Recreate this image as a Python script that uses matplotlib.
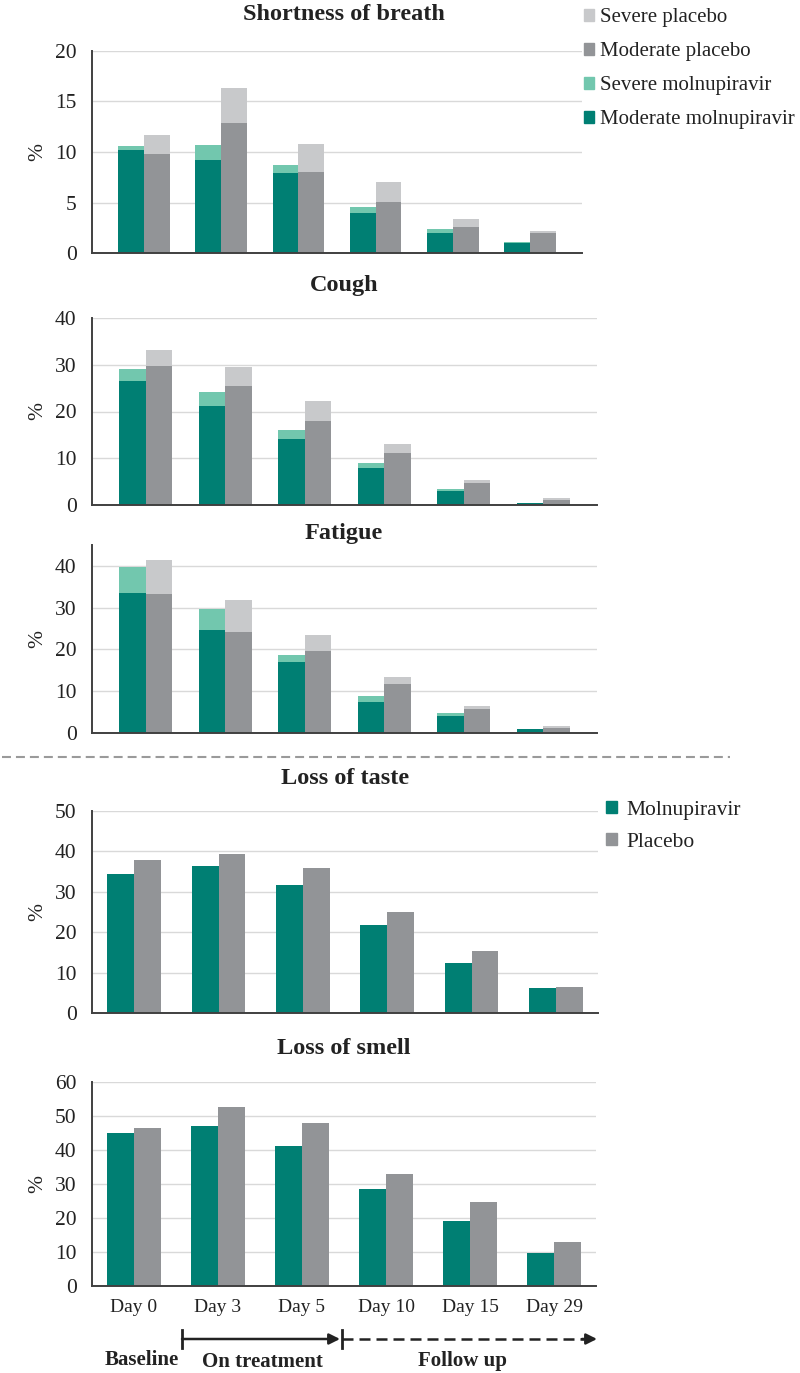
import numpy as np
import matplotlib
matplotlib.use('Agg')
import matplotlib.pyplot as plt
from matplotlib.patches import Patch

plt.rcParams['font.family'] = ['Liberation Serif', 'DejaVu Serif']

# ---- data -------------------------------------------------------------
days = ['Day 0', 'Day 3', 'Day 5', 'Day 10', 'Day 15', 'Day 29']

# shortness of breath (moderate part, severe part stacked on top)
sob_mol_mod = [10.15, 9.2, 7.9, 3.95, 2.0, 0.95]
sob_mol_sev = [0.45, 1.45, 0.85, 0.6, 0.35, 0.15]
sob_pla_mod = [9.8, 12.9, 8.0, 5.05, 2.6, 2.0]
sob_pla_sev = [1.85, 3.45, 2.8, 2.0, 0.8, 0.2]

cough_mol_mod = [26.5, 21.2, 14.1, 7.9, 3.1, 0.35]
cough_mol_sev = [2.6, 3.0, 1.9, 1.1, 0.4, 0.15]
cough_pla_mod = [29.8, 25.4, 18.0, 11.1, 4.8, 1.0]
cough_pla_sev = [3.3, 4.2, 4.3, 2.0, 0.6, 0.4]

fat_mol_mod = [33.4, 24.7, 17.0, 7.5, 4.15, 0.9]
fat_mol_sev = [6.3, 5.0, 1.75, 1.4, 0.75, 0.1]
fat_pla_mod = [33.2, 24.1, 19.6, 11.8, 5.75, 1.1]
fat_pla_sev = [8.3, 7.7, 3.9, 1.7, 0.75, 0.6]

taste_mol = [34.5, 36.3, 31.7, 21.7, 12.4, 6.3]
taste_pla = [37.8, 39.4, 35.8, 25.0, 15.4, 6.5]

smell_mol = [45.1, 47.2, 41.1, 28.5, 19.2, 9.8]
smell_pla = [46.4, 52.6, 48.0, 32.9, 24.6, 13.0]

# ---- style ------------------------------------------------------------
TEAL = '#007f73'
TEAL_L = '#72c7ae'
GRAY = '#929497'
GRAY_L = '#c8c9cb'
GRID = '#d9d9d9'
SPINE = '#404040'
INK = '#222222'

W, H = 800, 1373
fig = plt.figure(figsize=(W / 100, H / 100), dpi=100)


def make_ax(left, right, top, bottom):
    return fig.add_axes([left / W, 1 - bottom / H, (right - left) / W, (bottom - top) / H])


def style_ax(ax, ymax, ystep, ytop, xpad, show_x=False):
    ax.set_ylim(0, ytop)
    ax.set_yticks(np.arange(0, ymax + 1, ystep))
    ax.set_xlim(-xpad, len(days) - 1 + xpad)
    ax.set_xticks(np.arange(len(days)))
    if show_x:
        ax.set_xticklabels(days)
    else:
        ax.set_xticklabels([])
    ax.tick_params(axis='both', length=0, colors=INK)
    ax.tick_params(axis='y', pad=11, labelsize=15.5)
    ax.tick_params(axis='x', pad=9, labelsize=14)
    ax.yaxis.grid(True, color=GRID, lw=1.0)
    ax.set_axisbelow(True)
    for s in ['top', 'right']:
        ax.spines[s].set_visible(False)
    for s in ['left', 'bottom']:
        ax.spines[s].set_color(SPINE)
        ax.spines[s].set_linewidth(1.4)
    ax.spines['bottom'].set_zorder(5)


def stacked(ax, mol_mod, mol_sev, pla_mod, pla_sev, w):
    x = np.arange(len(days))
    ax.bar(x - w / 2, mol_mod, w, color=TEAL, zorder=3)
    ax.bar(x - w / 2, mol_sev, w, bottom=mol_mod, color=TEAL_L, zorder=3)
    ax.bar(x + w / 2, pla_mod, w, color=GRAY, zorder=3)
    ax.bar(x + w / 2, pla_sev, w, bottom=pla_mod, color=GRAY_L, zorder=3)


def paired(ax, mol, pla, w):
    x = np.arange(len(days))
    ax.bar(x - w / 2, mol, w, color=TEAL, zorder=3)
    ax.bar(x + w / 2, pla, w, color=GRAY, zorder=3)


# panel 1
ax1 = make_ax(92, 582, 51, 253)
stacked(ax1, sob_mol_mod, sob_mol_sev, sob_pla_mod, sob_pla_sev, 0.335)
style_ax(ax1, 20, 5, 20, 0.675)

# panel 2
ax2 = make_ax(92, 597, 318, 505)
stacked(ax2, cough_mol_mod, cough_mol_sev, cough_pla_mod, cough_pla_sev, 0.335)
style_ax(ax2, 40, 10, 40, 0.675)

# panel 3
ax3 = make_ax(92, 597, 545, 733)
stacked(ax3, fat_mol_mod, fat_mol_sev, fat_pla_mod, fat_pla_sev, 0.335)
style_ax(ax3, 40, 10, 45, 0.675)

# panel 4
ax4 = make_ax(92, 598, 811, 1013)
paired(ax4, taste_mol, taste_pla, 0.32)
style_ax(ax4, 50, 10, 50, 0.5)

# panel 5
ax5 = make_ax(92, 596, 1082, 1286)
paired(ax5, smell_mol, smell_pla, 0.32)
style_ax(ax5, 60, 10, 60, 0.5, show_x=True)

# legends
h1 = [Patch(color=GRAY_L), Patch(color=GRAY), Patch(color=TEAL_L), Patch(color=TEAL)]
l1 = ['Severe placebo', 'Moderate placebo', 'Severe molnupiravir', 'Moderate molnupiravir']
fig.legend(h1, l1, loc='upper left', bbox_to_anchor=(584 / W, 1 - 8 / H),
           frameon=False, fontsize=15, handlelength=0.5, handleheight=0.5,
           handletextpad=0.25, labelspacing=0.72, borderpad=0, borderaxespad=0,
           labelcolor=INK)

h2 = [Patch(color=TEAL), Patch(color=GRAY)]
fig.legend(h2, ['Molnupiravir', 'Placebo'], loc='upper left',
           bbox_to_anchor=(606 / W, 1 - 801 / H),
           frameon=False, fontsize=15.5, handlelength=0.5, handleheight=0.5,
           handletextpad=0.45, labelspacing=0.6, borderpad=0, borderaxespad=0,
           labelcolor=INK)

# overlay in pixel coordinates for titles, separators and arrows
ov = fig.add_axes([0, 0, 1, 1])
ov.set_xlim(0, W)
ov.set_ylim(H, 0)
ov.axis('off')
ov.patch.set_visible(False)

titles = [('Shortness of breath', 14, 344), ('Cough', 286, 344), ('Fatigue', 534, 344),
          ('Loss of taste', 778, 345), ('Loss of smell', 1048, 344)]
for t, y, x in titles:
    ov.text(x, y, t, ha='center', va='center', fontsize=17.5, fontweight='bold', color=INK)

for cy in [152, 411, 639, 912, 1184]:
    ov.text(38, cy, '%', rotation=90, ha='center', va='center', fontsize=15.5, color=INK)

# dashed separator between the two groups
ov.plot([2, 730], [757, 757], color='#9a9a9a', lw=1.5, dashes=(4.3, 2.4))

# phase arrows
ay = 1339
ov.plot([182, 182], [1330, 1348], color=INK, lw=2)
ov.annotate('', xy=(340, ay), xytext=(182, ay),
            arrowprops=dict(arrowstyle='-|>', lw=1.8, color=INK, mutation_scale=16,
                            shrinkA=0, shrinkB=0))
ov.plot([342, 342], [1330, 1348], color=INK, lw=2)
ov.plot([342, 584], [ay, ay], color=INK, lw=1.8, dashes=(4.4, 2.4))
ov.annotate('', xy=(597, ay), xytext=(582, ay),
            arrowprops=dict(arrowstyle='-|>', lw=1.8, color=INK, mutation_scale=16,
                            shrinkA=0, shrinkB=0))

ov.text(142, 1360, 'Baseline', ha='center', va='center', fontsize=15, fontweight='bold', color=INK)
ov.text(262, 1362, 'On treatment', ha='center', va='center', fontsize=15, fontweight='bold', color=INK)
ov.text(462, 1361, 'Follow up', ha='center', va='center', fontsize=15, fontweight='bold', color=INK)

plt.savefig('out.png', dpi=100)
